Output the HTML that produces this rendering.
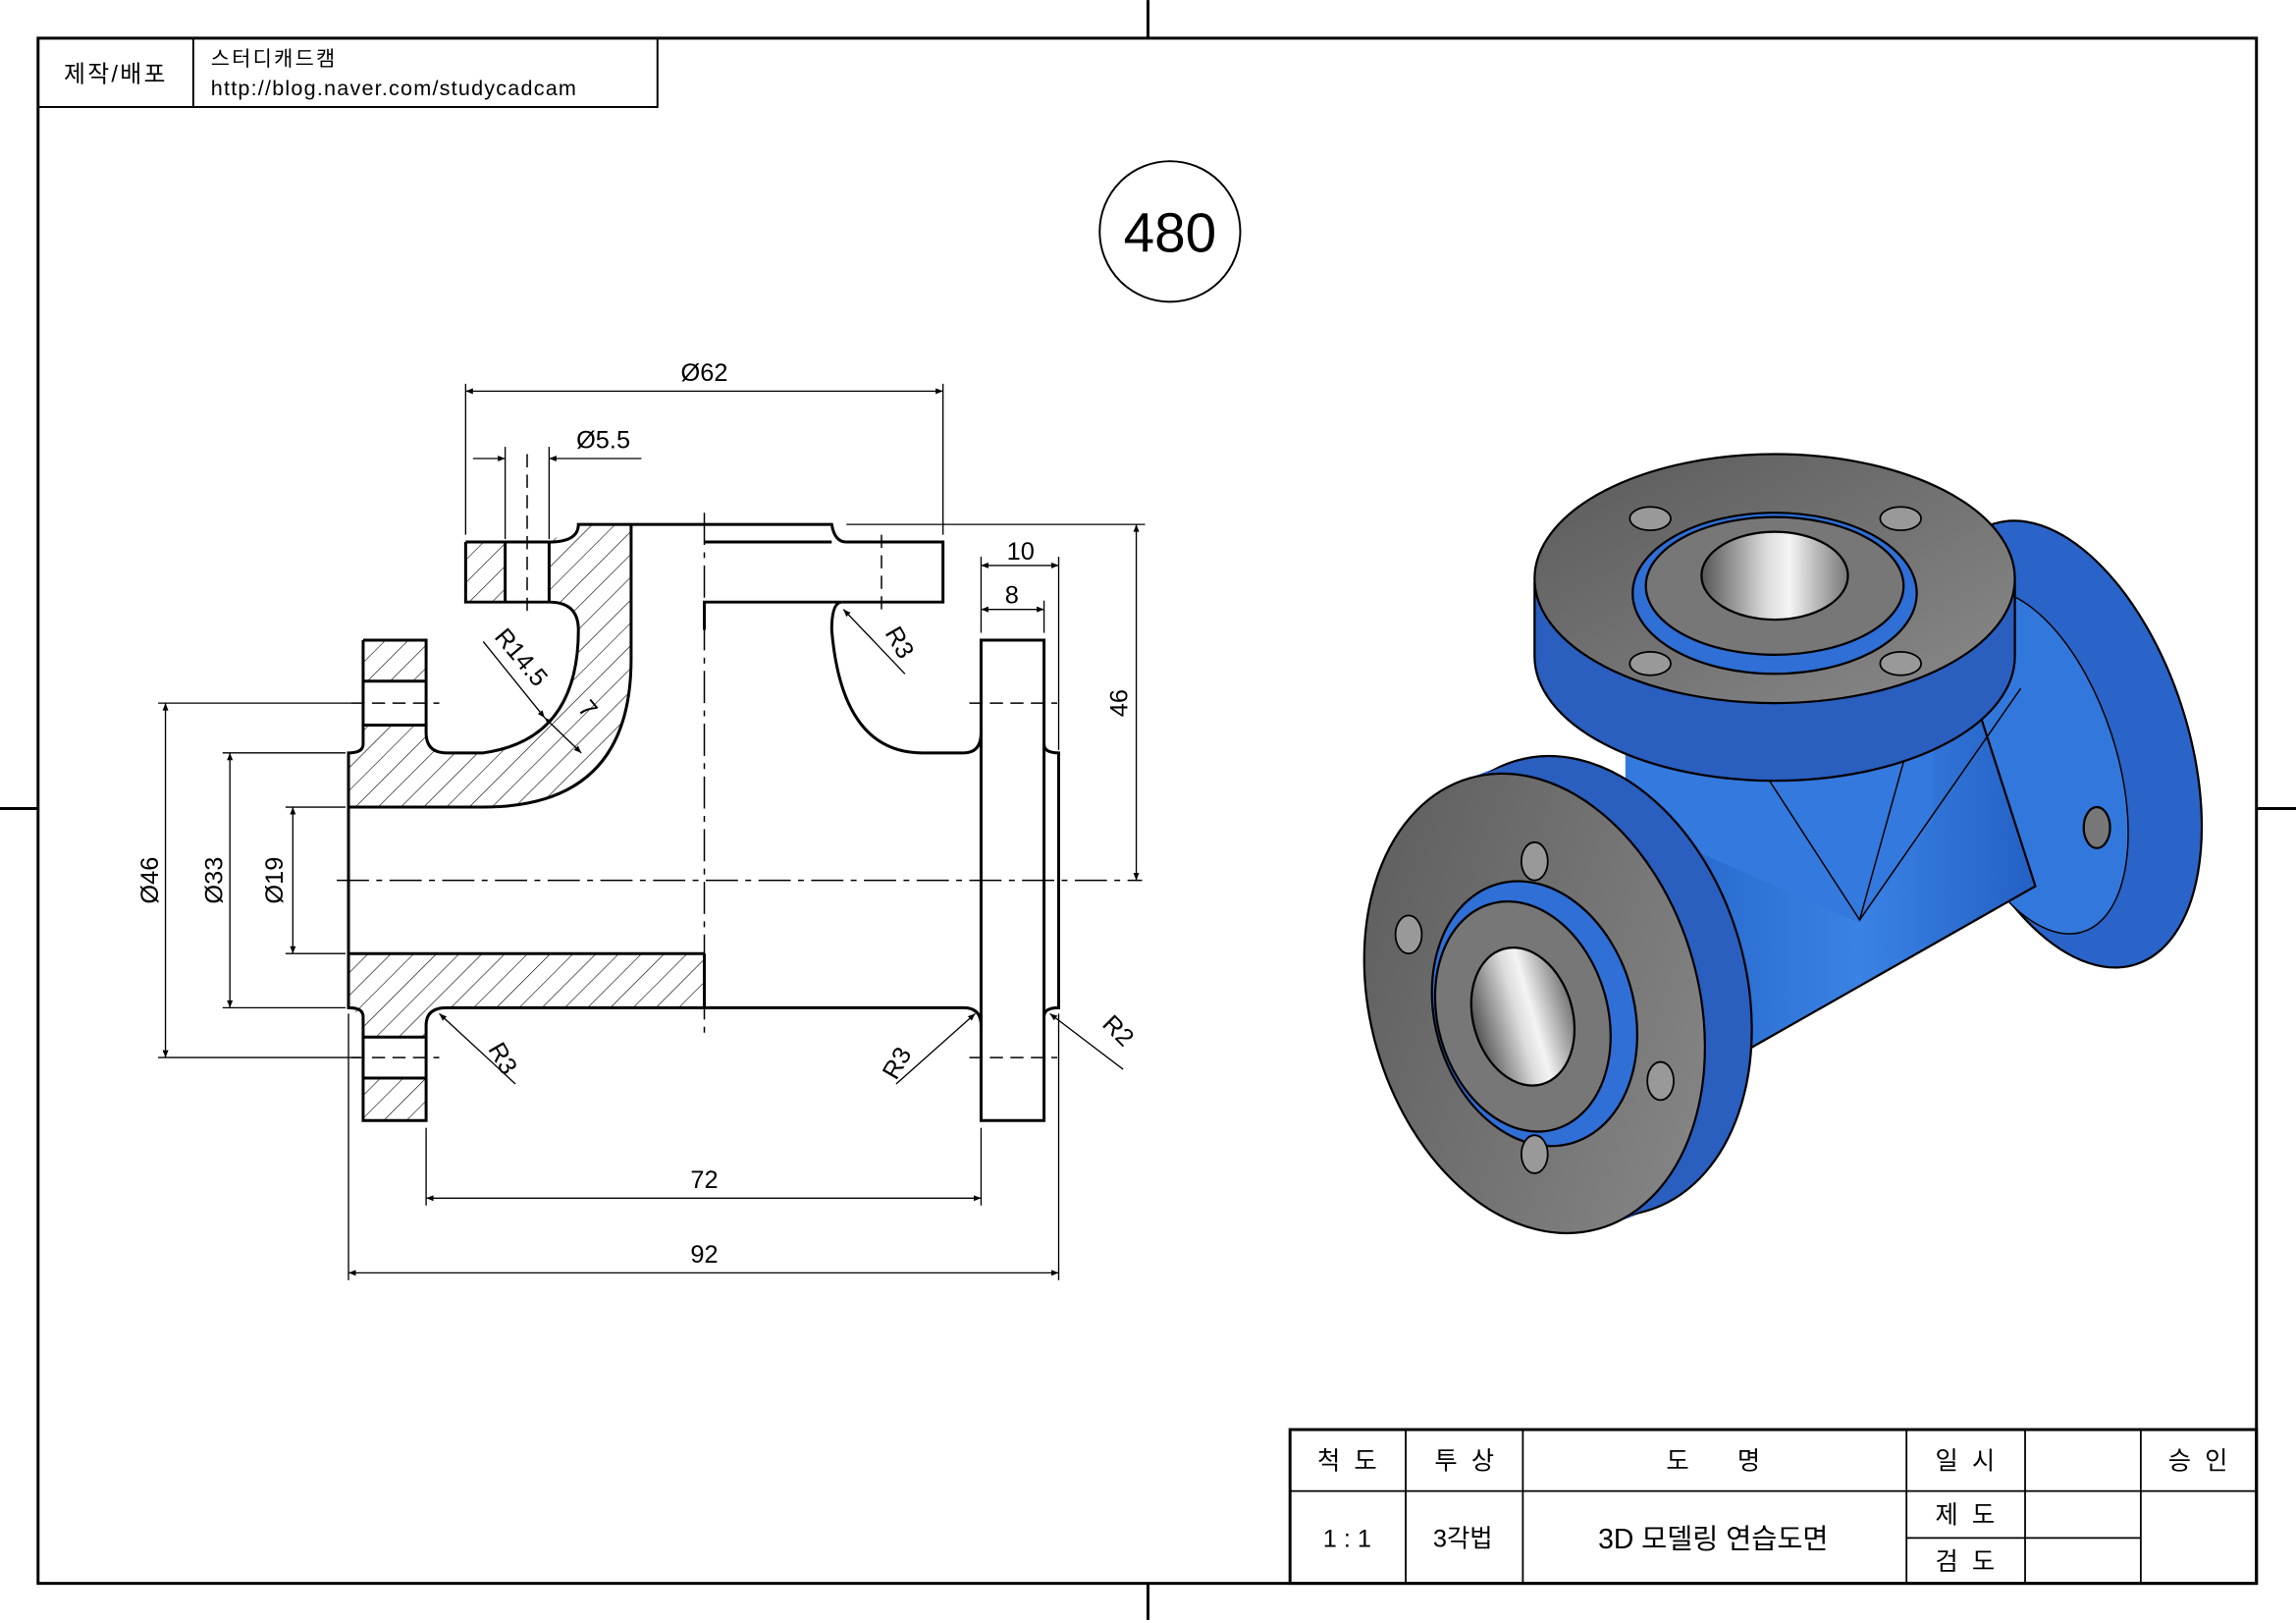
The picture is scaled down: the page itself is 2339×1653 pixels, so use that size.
<!DOCTYPE html>
<html><head><meta charset="utf-8">
<style>
html,body{margin:0;padding:0;background:#fff;}
svg{display:block;}
text{font-family:"Liberation Sans","Noto Sans CJK KR",sans-serif;fill:#000;}
</style></head>
<body>
<svg width="2339" height="1653" viewBox="0 0 1568 1108" xmlns="http://www.w3.org/2000/svg">
<defs>
<pattern id="h" patternUnits="userSpaceOnUse" width="11" height="11" patternTransform="rotate(45)">
<line x1="0" y1="0" x2="0" y2="11" stroke="#000" stroke-width="0.8"/>
</pattern>
<linearGradient id="bore" x1="0" y1="0" x2="1" y2="0">
<stop offset="0" stop-color="#555"/><stop offset="0.45" stop-color="#ddd"/><stop offset="0.6" stop-color="#f4f4f4"/><stop offset="1" stop-color="#777"/>
</linearGradient>
<linearGradient id="face" x1="0" y1="0" x2="1" y2="1">
<stop offset="0" stop-color="#5a5a5a"/><stop offset="1" stop-color="#8a8a8a"/>
</linearGradient>
<linearGradient id="blue" x1="0" y1="0" x2="1" y2="0">
<stop offset="0" stop-color="#1f5cc0"/><stop offset="0.6" stop-color="#3a82e4"/><stop offset="1" stop-color="#2460c4"/>
</linearGradient>
<marker id="a" viewBox="0 0 10 10" refX="10" refY="5" markerWidth="9" markerHeight="5" orient="auto-start-reverse" markerUnits="userSpaceOnUse">
<path d="M0,1 L10,5 L0,9 z" fill="#000"/></marker>
</defs>

<!-- frame -->
<rect x="26" y="26" width="1515" height="1055" fill="none" stroke="#000" stroke-width="2"/>
<g stroke="#000" stroke-width="2">
<line x1="784" y1="0" x2="784" y2="26"/><line x1="784" y1="1081" x2="784" y2="1106"/>
<line x1="0" y1="552" x2="26" y2="552"/><line x1="1541" y1="552" x2="1568" y2="552"/>
</g>
<rect x="26" y="26" width="423" height="47" fill="none" stroke="#000" stroke-width="1.3"/>
<line x1="132" y1="26" x2="132" y2="73" stroke="#000" stroke-width="1.3"/>
<text x="79" y="56" font-size="16" text-anchor="middle" letter-spacing="1.5">제작/배포</text>
<text x="144" y="45" font-size="14" letter-spacing="1.5">스터디캐드캠</text>
<text x="144" y="65" font-size="14.5" letter-spacing="0.8">http://blog.naver.com/studycadcam</text>

<circle cx="799" cy="158" r="48" fill="none" stroke="#000" stroke-width="1.3"/>
<text x="799" y="172" font-size="38" text-anchor="middle">480</text>

<!-- SECTION VIEW -->
<g stroke="#000" stroke-width="2" fill="none">
<g fill="url(#h)" stroke="none">
<rect x="248" y="437" width="43" height="28"/>
<rect x="248" y="736" width="43" height="29"/>
<rect x="318" y="370" width="27" height="41"/>
<path d="M238,514 L248,508 L248,495 L291,495 L291,500 Q291,514 305,514 L330,514 Q395,505 395,430 Q395,411 375,411 L375,370 L395,358 L431,358 L431,450 Q431,551 330,551 L238,551 Z"/>
<path d="M238,651 L481,651 L481,688 L305,688 Q291,688 291,700 L291,708 L248,708 L248,694 L238,688 Z"/>
</g>
<path d="M248,437 H291 V500 Q291,514 305,514 H330 Q395,505 395,430 Q395,411 375,411"/>
<path d="M248,437 V508 Q248,514 238,514 V688 Q248,688 248,694 V765 H291 V700 Q291,688 305,688 H658 Q670,688 670,700"/>
<line x1="248" y1="465" x2="291" y2="465"/><line x1="248" y1="495" x2="291" y2="495"/>
<line x1="248" y1="708" x2="291" y2="708"/><line x1="248" y1="736" x2="291" y2="736"/>
<path d="M238,551 H330 Q431,551 431,450 V358"/>
<line x1="238" y1="651" x2="481" y2="651"/>
<line x1="481" y1="651" x2="481" y2="688"/>
<path d="M318,370 H375 Q395,370 395,358 H568 Q570,370 578,370 H644 V411 H575"/>
<path d="M318,370 V411 H375"/>
<line x1="345" y1="370" x2="345" y2="411"/><line x1="375" y1="370" x2="375" y2="411"/>
<line x1="481" y1="370" x2="568" y2="370"/>
<path d="M481,430 V411 H575 Q568,411 568,430 Q575,514 630,514 H658 Q670,514 670,500"/>
<rect x="670" y="437" width="43" height="328"/>
<path d="M713,508 Q713,514 723,514 V688 Q713,688 713,694"/>
</g>
<g stroke="#000" stroke-width="1" fill="none" stroke-dasharray="22,5,4,5">
<line x1="230" y1="601" x2="780" y2="601"/>
<line x1="481" y1="350" x2="481" y2="705"/>
</g>
<g stroke="#000" stroke-width="1" fill="none" stroke-dasharray="9,5">
<line x1="240" y1="480" x2="300" y2="480"/><line x1="240" y1="722" x2="300" y2="722"/>
<line x1="662" y1="480" x2="722" y2="480"/><line x1="662" y1="722" x2="722" y2="722"/>
<line x1="360" y1="310" x2="360" y2="418"/><line x1="602" y1="365" x2="602" y2="418"/>
</g>
<g stroke="#000" stroke-width="0.9" fill="none">
<line x1="318" y1="262" x2="318" y2="365"/><line x1="644" y1="262" x2="644" y2="365"/>
<line x1="318" y1="267" x2="644" y2="267" marker-start="url(#a)" marker-end="url(#a)"/>
<line x1="345" y1="305" x2="345" y2="368"/><line x1="375" y1="305" x2="375" y2="368"/>
<line x1="323" y1="313" x2="345" y2="313" marker-end="url(#a)"/>
<line x1="438" y1="313" x2="375" y2="313" marker-end="url(#a)"/>
<line x1="670" y1="380" x2="670" y2="432"/><line x1="713" y1="410" x2="713" y2="432"/><line x1="723" y1="380" x2="723" y2="512"/>
<line x1="670" y1="386" x2="723" y2="386" marker-start="url(#a)" marker-end="url(#a)"/>
<line x1="670" y1="416" x2="713" y2="416" marker-start="url(#a)" marker-end="url(#a)"/>
<line x1="578" y1="358" x2="782" y2="358"/>
<line x1="776" y1="358" x2="776" y2="601" marker-start="url(#a)" marker-end="url(#a)"/>
<line x1="108" y1="480" x2="240" y2="480"/><line x1="108" y1="722" x2="246" y2="722"/>
<line x1="113" y1="480" x2="113" y2="722" marker-start="url(#a)" marker-end="url(#a)"/>
<line x1="152" y1="514" x2="236" y2="514"/><line x1="152" y1="688" x2="236" y2="688"/>
<line x1="157" y1="514" x2="157" y2="688" marker-start="url(#a)" marker-end="url(#a)"/>
<line x1="195" y1="551" x2="236" y2="551"/><line x1="195" y1="651" x2="236" y2="651"/>
<line x1="200" y1="551" x2="200" y2="651" marker-start="url(#a)" marker-end="url(#a)"/>
<line x1="291" y1="770" x2="291" y2="823"/><line x1="670" y1="770" x2="670" y2="823"/>
<line x1="291" y1="818" x2="670" y2="818" marker-start="url(#a)" marker-end="url(#a)"/>
<line x1="238" y1="692" x2="238" y2="874"/><line x1="723" y1="692" x2="723" y2="874"/>
<line x1="238" y1="869" x2="723" y2="869" marker-start="url(#a)" marker-end="url(#a)"/>
<line x1="330" y1="438" x2="372" y2="490" marker-end="url(#a)"/>
<line x1="372" y1="490" x2="397" y2="514" marker-start="url(#a)" marker-end="url(#a)"/>
<line x1="618" y1="460" x2="576" y2="416" marker-end="url(#a)"/>
<line x1="352" y1="740" x2="300" y2="692" marker-end="url(#a)"/>
<line x1="612" y1="740" x2="666" y2="692" marker-end="url(#a)"/>
<line x1="767" y1="730" x2="717" y2="692" marker-end="url(#a)"/>
</g>
<g font-size="17">
<text x="481" y="260" text-anchor="middle">Ø62</text>
<text x="412" y="306" text-anchor="middle">Ø5.5</text>
<text x="697" y="382" text-anchor="middle">10</text>
<text x="691" y="412" text-anchor="middle">8</text>
<text transform="translate(770,480) rotate(-90)" text-anchor="middle">46</text>
<text transform="translate(108,601) rotate(-90)" text-anchor="middle">Ø46</text>
<text transform="translate(152,601) rotate(-90)" text-anchor="middle">Ø33</text>
<text transform="translate(193,601) rotate(-90)" text-anchor="middle">Ø19</text>
<text x="481" y="811" text-anchor="middle">72</text>
<text x="481" y="862" text-anchor="middle">92</text>
<text transform="translate(337,435) rotate(50)">R14.5</text>
<text transform="translate(394,484) rotate(50)">7</text>
<text transform="translate(604,432) rotate(60)">R3</text>
<text transform="translate(333,716) rotate(60)">R3</text>
<text transform="translate(612,738) rotate(-60)">R3</text>
<text transform="translate(752,700) rotate(45)">R2</text>
</g>

<!-- ISOMETRIC -->
<g stroke="#000" stroke-width="1.5">
<ellipse cx="1410" cy="508" rx="84" ry="158" transform="rotate(-18 1410 508)" fill="#2a64c8"/>
<ellipse cx="1385" cy="520" rx="60" ry="122" transform="rotate(-18 1385 520)" fill="#3278dc" stroke-width="1"/>
<ellipse cx="1432" cy="565" rx="9" ry="14" fill="#777"/>
<path d="M1090,570 L1340,450 L1390,605 L1170,730 Z" fill="url(#blue)"/>
<path d="M1110,480 L1320,470 L1320,560 L1270,630 L1110,560 Z" fill="#3479dd" stroke="none"/>
<path d="M1200,520 L1270,628 L1300,520" fill="none" stroke-width="1"/>
<path d="M1270,628 L1380,470" fill="none" stroke-width="1"/>
<!-- top flange -->
<path d="M1048,398 V448 A164,85 0 0 0 1376,448 V398 Z" fill="#2a5fc0"/>
<ellipse cx="1212" cy="395" rx="164" ry="85" fill="url(#face)"/>
<ellipse cx="1212" cy="405" rx="97" ry="55" fill="#2f6fd6"/>
<ellipse cx="1212" cy="400" rx="88" ry="47" fill="#777"/>
<ellipse cx="1212" cy="393" rx="50" ry="30" fill="url(#bore)"/>
<g fill="#999" stroke-width="1.2">
<ellipse cx="1127" cy="354" rx="14" ry="8"/><ellipse cx="1298" cy="354" rx="14" ry="8"/>
<ellipse cx="1127" cy="453" rx="14" ry="8"/><ellipse cx="1298" cy="453" rx="14" ry="8"/>
</g>
<!-- left flange thickness -->
<g fill="#2a5fc0" stroke="none">
<ellipse cx="1056" cy="682" rx="112" ry="160" transform="rotate(-16 1056 682)"/>
<ellipse cx="1064" cy="679" rx="112" ry="160" transform="rotate(-16 1064 679)"/>
<ellipse cx="1072" cy="676" rx="112" ry="160" transform="rotate(-16 1072 676)"/>
</g>
<ellipse cx="1080" cy="673" rx="112" ry="160" transform="rotate(-16 1080 673)" fill="#2a5fc0"/>
<g fill="#2a5fc0" stroke="none">
<ellipse cx="1056" cy="682" rx="111" ry="159" transform="rotate(-16 1056 682)"/>
<ellipse cx="1066" cy="678" rx="111" ry="159" transform="rotate(-16 1066 678)"/>
<ellipse cx="1074" cy="675" rx="111" ry="159" transform="rotate(-16 1074 675)"/>
</g>
<ellipse cx="1048" cy="685" rx="112" ry="160" transform="rotate(-16 1048 685)" fill="url(#face)"/>
<ellipse cx="1048" cy="692" rx="68" ry="92" transform="rotate(-16 1048 692)" fill="#2f6fd6"/>
<ellipse cx="1040" cy="694" rx="58" ry="80" transform="rotate(-16 1040 694)" fill="#777"/>
<ellipse cx="1040" cy="694" rx="34" ry="48" transform="rotate(-16 1040 694)" fill="url(#bore)"/>
<g fill="#999" stroke-width="1.2">
<ellipse cx="1048" cy="588" rx="9" ry="13"/><ellipse cx="962" cy="638" rx="9" ry="13"/>
<ellipse cx="1134" cy="738" rx="9" ry="13"/><ellipse cx="1048" cy="788" rx="9" ry="13"/>
</g>
</g>

<!-- title block -->
<g stroke="#000" fill="none">
<rect x="881" y="976" width="660" height="105" stroke-width="2"/>
<g stroke-width="1.2">
<line x1="881" y1="1018" x2="1541" y2="1018"/>
<line x1="960" y1="976" x2="960" y2="1081"/>
<line x1="1040" y1="976" x2="1040" y2="1081"/>
<line x1="1302" y1="976" x2="1302" y2="1081"/>
<line x1="1383" y1="976" x2="1383" y2="1081"/>
<line x1="1462" y1="976" x2="1462" y2="1081"/>
<line x1="1302" y1="1050" x2="1462" y2="1050"/>
</g>
</g>
<g font-size="17" text-anchor="middle">
<text x="920" y="1003">척&#160;&#160;도</text>
<text x="1000" y="1003">투&#160;&#160;상</text>
<text x="1170" y="1003">도&#160;&#160;&#160;&#160;&#160;&#160;&#160;명</text>
<text x="1342" y="1003">일&#160;&#160;시</text>
<text x="1501" y="1003">승&#160;&#160;인</text>
<text x="920" y="1056">1 : 1</text>
<text x="999" y="1056">3각법</text>
<text x="1170" y="1057" font-size="19">3D 모델링 연습도면</text>
<text x="1342" y="1040">제&#160;&#160;도</text>
<text x="1342" y="1072">검&#160;&#160;도</text>
</g>
</svg>
</body></html>
